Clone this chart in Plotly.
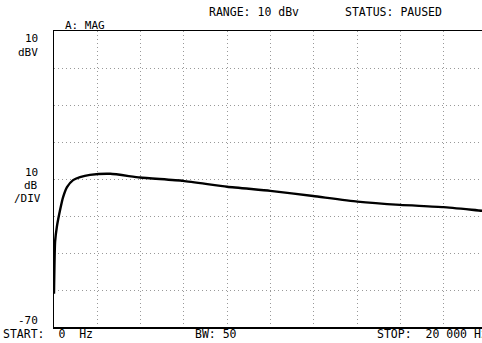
import plotly.graph_objects as go

freq_hz = [0, 50, 130, 280, 420, 600, 880, 1200, 1660, 2600, 3970, 5960, 7990,
           9980, 11960, 14000, 15980, 17970, 19770, 20000]
mag_dbv = [-61, -47, -43, -38.4, -34.9, -32.2, -30.3, -29.5, -28.9, -28.6, -29.6,
           -30.5, -32.1, -33.2, -34.6, -36.1, -37.0, -37.6, -38.6, -38.7]

x_grid = [2000, 4000, 6000, 8000, 10000, 12000, 14000, 16000, 18000]
y_grid = [0, -10, -20, -30, -40, -50, -60]

W, H = 482, 343
L, R, T, B = 54, 0, 31, 16
PW, PH = W - L - R, H - T - B

def px(x):
    return (x - L) / PW

def py(y):
    return (H - B - y) / PH

FONT = dict(family="DejaVu Sans Mono", size=11.5, color="black")
FONT_S = dict(family="DejaVu Sans Mono", size=11, color="black")

fig = go.Figure()
fig.add_trace(go.Scatter(x=freq_hz, y=mag_dbv, mode="lines",
                         line=dict(color="black", width=2.4, shape="spline", smoothing=0.5),
                         showlegend=False, hoverinfo="skip"))

grid = dict(showgrid=True, gridcolor="#999", griddash="1px,3px", gridwidth=1)
fig.update_layout(
    width=W, height=H, autosize=False,
    margin=dict(l=L, r=R, t=T, b=B, pad=0),
    paper_bgcolor="white", plot_bgcolor="white",
    xaxis=dict(range=[0, 20000 * PW / 433.3], tickvals=x_grid, showticklabels=False,
               ticks="", showline=True, linecolor="black", linewidth=1.5, mirror=True,
               zeroline=False, fixedrange=True, **grid),
    yaxis=dict(range=[-70, 10], tickvals=y_grid, showticklabels=False, ticks="",
               showline=True, linecolor="black", linewidth=1.5, mirror=False,
               zeroline=False, fixedrange=True, **grid),
)

texts = [
    ("A: MAG", 63, 25, "left", FONT_S),
    ("RANGE: 10 dBv", 207, 12, "left", FONT),
    ("STATUS: PAUSED", 343, 12, "left", FONT),
    ("10", 40, 38, "right", FONT_S),
    ("dBV", 40, 52, "right", FONT_S),
    ("10", 40, 172, "right", FONT_S),
    ("dB", 40, 185, "right", FONT_S),
    ("/DIV", 43, 198, "right", FONT_S),
    ("-70", 40, 320, "right", FONT_S),
    ("START:  0  Hz", 1, 334, "left", FONT),
    ("BW: 50", 193, 334, "left", FONT),
    ("STOP:  20 000 Hz", 375, 334, "left", FONT),
]
for t, x, y, anc, f in texts:
    fig.add_annotation(text=t, x=px(x), y=py(y), xref="paper", yref="paper",
                       xanchor=anc, yanchor="middle", showarrow=False, font=f)

fig.write_html("out.html", config={"displayModeBar": False, "staticPlot": True},
               post_script="document.body.style.margin='0';document.body.style.overflow='hidden';")
